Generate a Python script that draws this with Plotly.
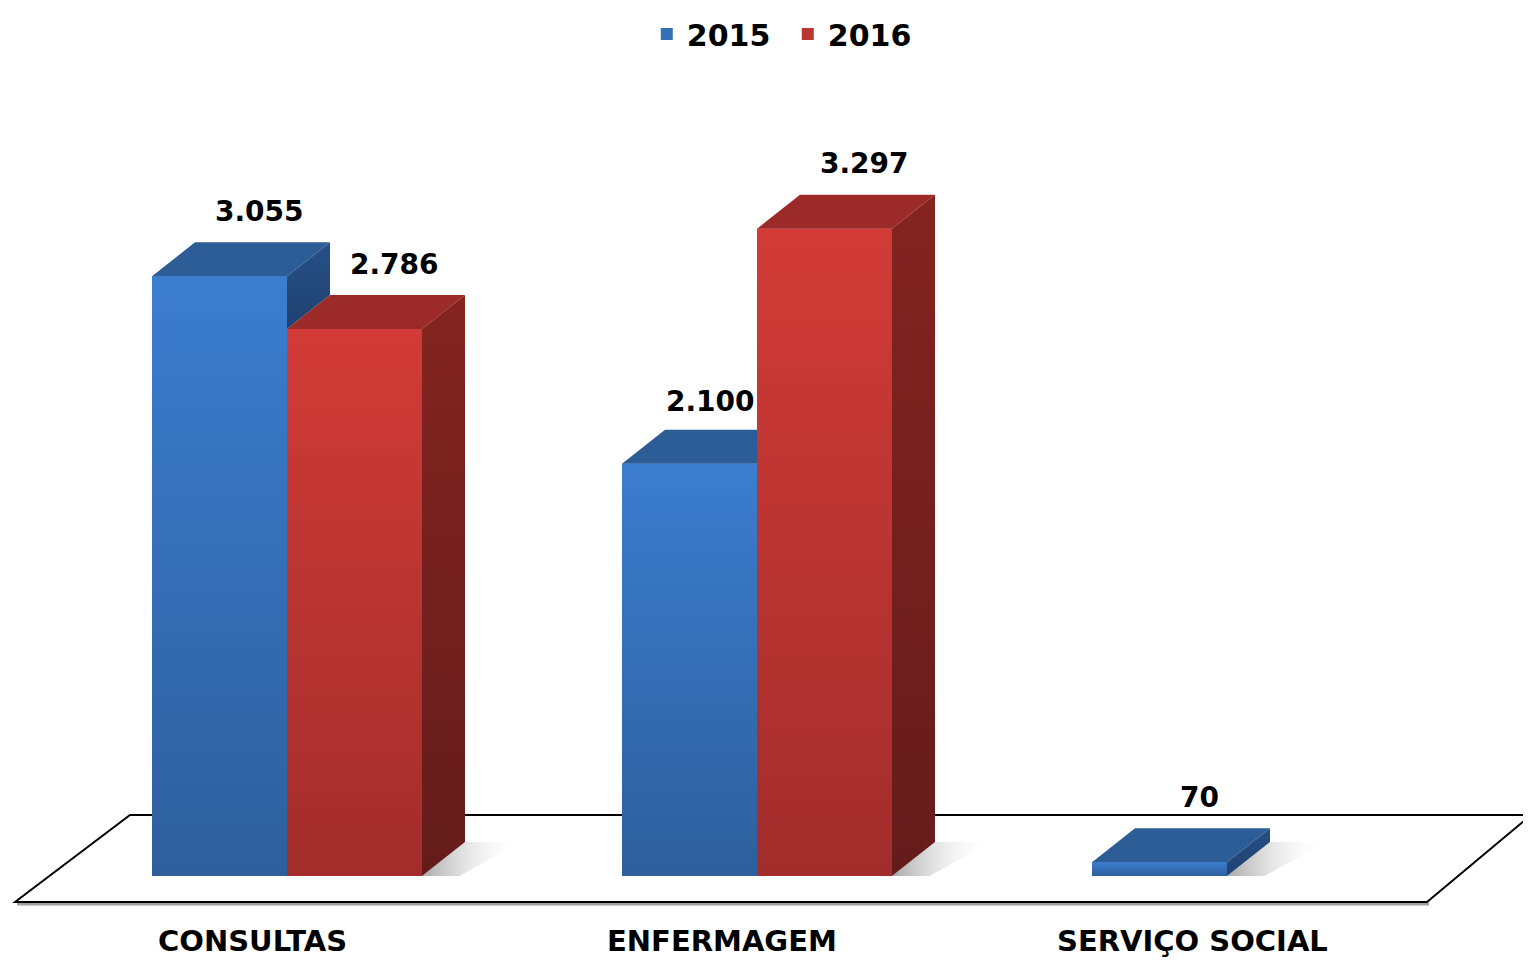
import plotly.graph_objects as go

# ---------------- data ----------------
categories = ["CONSULTAS", "ENFERMAGEM", "SERVIÇO SOCIAL"]
series_names = ["2015", "2016"]
values_2015 = [3055, 2100, 70]
values_2016 = [2786, 3297, None]

# ---------------- geometry / style ----------------
PAGE_W, PAGE_H = 1531, 961
OFF = 8                     # default body margin of the html page
W, H = PAGE_W - OFF, PAGE_H - OFF
PX_X = 470.0                # pixels per category unit
PX_Y = 0.1963               # pixels per value unit
CAT0_PX = 287               # page x of first category centre
BASE_PX = 876               # page y of the bar baseline
X_RANGE = [(OFF - CAT0_PX) / PX_X, (PAGE_W - CAT0_PX) / PX_X]
Y_RANGE = [-(PAGE_H - BASE_PX) / PX_Y, (BASE_PX - OFF) / PX_Y]
BW = 135 / PX_X             # bar width in category units
DDX = 43 / PX_X             # 3D depth (x)
DDY = 34 / PX_Y             # 3D depth (y)
FONT = "DejaVu Sans"

front = {"2015": "#3470b8", "2016": "#bb3532"}
front_grad = {"2015": ["#2e5f9c", "#3b7dcf"], "2016": ["#a22d2b", "#d23b37"]}
topc = {"2015": "#2d5d97", "2016": "#9b2a28"}
side_grad = {"2015": ["#1f416f", "#275088"], "2016": ["#641c1b", "#842420"]}

series = {"2015": values_2015, "2016": values_2016}
xs_cat = list(range(len(categories)))

fig = go.Figure()

# floor (decorative), computed from page geometry
def fx(p):
    return (p - CAT0_PX) / PX_X

def fy(p):
    return (BASE_PX - p) / PX_Y

floor_path = (f"M{fx(15)},{fy(902)} L{fx(130)},{fy(815)} L{fx(1531)},{fy(815)} "
              f"L{fx(1427)},{fy(902)} Z")
fig.add_shape(type="path", path=f"M{fx(17)},{fy(904)} L{fx(1429)},{fy(904)}",
              xref="x", yref="y", line=dict(color="#a0a0a0", width=3), layer="below")
fig.add_shape(type="path", path=floor_path, xref="x", yref="y",
              line=dict(color="black", width=2), fillcolor="white", layer="below")

# front faces: bars
for k, name in enumerate(series_names):
    fig.add_trace(go.Bar(
        x=xs_cat, y=series[name], name=name,
        width=BW, offset=-BW if k == 0 else 0,
        marker=dict(color=front[name], line=dict(width=0)),
    ))


def poly(xs, ys, **kw):
    fig.add_trace(go.Scatter(x=xs, y=ys, mode="lines", fill="toself",
                             line=dict(width=0), hoverinfo="skip", showlegend=False, **kw))


def vgrad(c):
    return dict(type="vertical", colorscale=[[0, c[0]], [1, c[1]]])


# shading of the fronts, top and side faces + labels
for i in xs_cat:
    for k, name in enumerate(series_names):
        v = series[name][i]
        if v is None:
            continue
        x0 = i + (-BW if k == 0 else 0)
        x1 = x0 + BW
        nxt = series[series_names[1]][i] if k == 0 else None
        hidden_right = nxt is not None and nxt >= v + DDY
        # soft shadow on the floor right of the group
        if nxt is None:
            poly([x1, x1 + DDX, x1 + DDX + 0.12, x1 + 0.08, x1], [0, DDY, DDY, 0, 0],
                 fillgradient=dict(type="horizontal",
                                   colorscale=[[0, "rgba(110,110,110,0.6)"],
                                               [1, "rgba(255,255,255,0)"]]))
        # gradient front face (same rectangle as the bar)
        poly([x0, x0, x1, x1, x0], [0, v, v, 0, 0], fillgradient=vgrad(front_grad[name]))
        # top face
        if hidden_right:
            tx = [x0, x0 + DDX, x1, x1, x0]
        else:
            tx = [x0, x0 + DDX, x1 + DDX, x1, x0]
        poly(tx, [v, v + DDY, v + DDY, v, v], fillcolor=topc[name])
        # side face
        base = min(nxt, v) if nxt is not None else 0
        if base < v:
            poly([x1, x1 + DDX, x1 + DDX, x1, x1], [base, base + DDY, v + DDY, v, base],
                 fillgradient=vgrad(side_grad[name]))
        # value label
        label = f"{v:,}".replace(",", ".")
        lfont = dict(family=FONT, size=28, color="black", weight="bold")
        if nxt is not None and nxt > v:
            fig.add_annotation(x=x1, y=v, text=label, showarrow=False,
                               xanchor="right", yanchor="middle", yshift=62, font=lfont)
        else:
            fig.add_annotation(x=(x0 + x1) / 2, y=v, text=label, showarrow=False,
                               xanchor="center", yanchor="middle", xshift=40, yshift=65,
                               font=lfont)

# category labels
for i, c in enumerate(categories):
    fig.add_annotation(x=i, y=(PAGE_H - 941) / H, yref="paper", text=c, showarrow=False,
                       xanchor="center", yanchor="middle", xshift=-35,
                       font=dict(family=FONT, size=29, color="black", weight="bold"))

fig.update_layout(
    width=W, height=H,
    margin=dict(l=0, r=0, t=0, b=0),
    paper_bgcolor="white", plot_bgcolor="white",
    barmode="overlay",
    showlegend=True,
    legend=dict(orientation="h", x=0.512, xanchor="center", y=1, yanchor="top",
                font=dict(family=FONT, size=30, color="black", weight="bold"),
                entrywidthmode="pixels", entrywidth=96, bgcolor="rgba(0,0,0,0)"),
    xaxis=dict(range=X_RANGE, showgrid=False, zeroline=False, showticklabels=False,
               showline=False, fixedrange=True),
    yaxis=dict(range=Y_RANGE, showgrid=False, zeroline=False, showticklabels=False,
               showline=False, fixedrange=True),
)

fig.write_html("out.html")
